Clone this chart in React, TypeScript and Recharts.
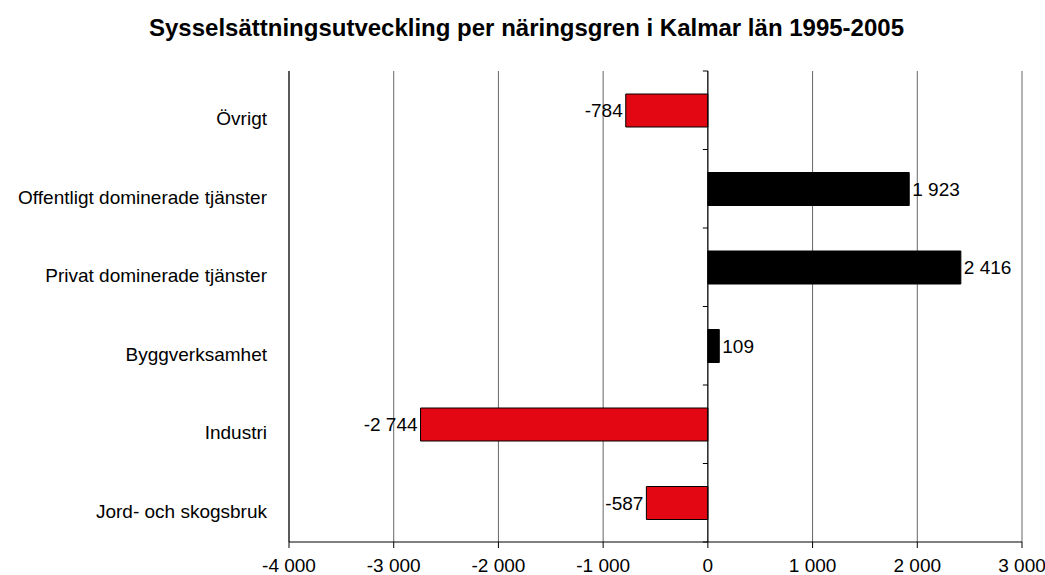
import { Bar, BarChart, CartesianGrid, Cell, LabelList, ReferenceLine, XAxis, YAxis } from 'recharts'

const FONT = "'Liberation Sans', Arial, sans-serif"

const categories = [
  'Övrigt',
  'Offentligt dominerade tjänster',
  'Privat dominerade tjänster',
  'Byggverksamhet',
  'Industri',
  'Jord- och skogsbruk',
]
const changes = [-784, 1923, 2416, 109, -2744, -587]
const xTicks = [-4000, -3000, -2000, -1000, 0, 1000, 2000, 3000]

const data = categories.map((name, i) => ({ name, value: changes[i] }))

// swedish style: space as thousands separator
const fmt = (v: number) => {
  const s = Math.abs(v)
    .toString()
    .replace(/\B(?=(\d{3})+(?!\d))/g, ' ')
  return v < 0 ? '-' + s : s
}

function CategoryTick({ x, y, payload }: any) {
  return (
    <text x={x - 22} y={y} dy={15} textAnchor="end" fontSize={19} fontFamily={FONT} fill="#000">
      {payload.value}
    </text>
  )
}

// zero line with small marks between the categories
function ZeroLine(p: any) {
  const n = categories.length
  const marks = []
  for (let i = 0; i <= n; i++) {
    const y = p.y1 + ((p.y2 - p.y1) * i) / n
    marks.push(<line key={i} x1={p.x1 - 5} y1={y} x2={p.x1} y2={y} stroke="#000" strokeWidth={1} />)
  }
  return (
    <g>
      <line x1={p.x1} y1={p.y1} x2={p.x2} y2={p.y2} stroke="#000" strokeWidth={1} />
      {marks}
    </g>
  )
}

export default function App() {
  return (
    <div style={{ position: 'absolute', left: 0, top: 0, width: 1045, height: 575, background: '#fff', fontFamily: FONT }}>
      <div
        style={{
          position: 'absolute',
          left: 0,
          top: 14,
          width: 1053,
          textAlign: 'center',
          fontSize: 24,
          fontWeight: 'bold',
          color: '#000',
          whiteSpace: 'nowrap',
        }}
      >
        Sysselsättningsutveckling per näringsgren i Kalmar län 1995-2005
      </div>
      <BarChart
        width={1045}
        height={575}
        data={data}
        layout="vertical"
        margin={{ top: 71, right: 23, bottom: 0, left: 0 }}
      >
        <CartesianGrid horizontal={false} stroke="#666" />
        <XAxis
          type="number"
          domain={[-4000, 3000]}
          ticks={xTicks}
          tickFormatter={fmt}
          height={33}
          tickSize={6}
          tickMargin={11}
          interval={0}
          stroke="#000"
          tick={{ fill: '#000', fontSize: 19, fontFamily: FONT }}
        />
        <YAxis
          type="category"
          dataKey="name"
          width={289}
          tickSize={0}
          tickMargin={0}
          tickLine={false}
          stroke="#000"
          tick={<CategoryTick />}
        />
        <ReferenceLine x={0} stroke="#000" shape={ZeroLine} />
        <Bar dataKey="value" barSize={33} stroke="#000" strokeWidth={1} isAnimationActive={false}>
          {data.map((d) => (
            <Cell key={d.name} fill={d.value < 0 ? '#e30613' : '#000'} />
          ))}
          <LabelList
            dataKey="value"
            position="right"
            offset={3}
            formatter={(v: any) => fmt(Number(v))}
            fill="#000"
            fontSize={19}
            fontFamily={FONT}
          />
        </Bar>
      </BarChart>
    </div>
  )
}
